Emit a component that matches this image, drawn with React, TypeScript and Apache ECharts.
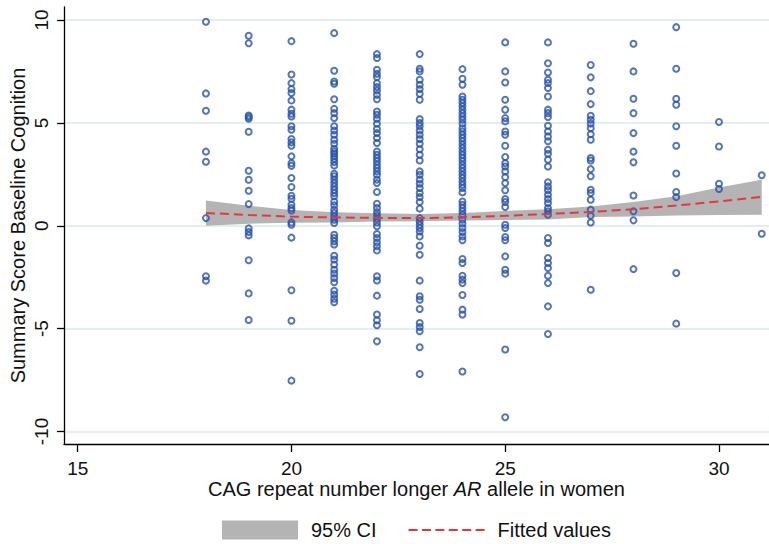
import React, { useEffect, useRef } from 'react';
import * as echarts from 'echarts';

const FONT = '"Liberation Sans", Arial, Helvetica, sans-serif';

const cagRepeats = [18, 19, 20, 21, 22, 23, 24, 25, 26, 27, 28, 29, 30, 31];

const score18 = [9.91, 6.43, 5.59, 3.6, 3.11, 0.37, -2.46, -2.67];
const score19 = [9.23, 8.87, 5.36, 5.28, 5.2, 4.57, 2.67, 2.23, 1.7, 1.05, -0.13, -0.31, -0.47, -1.68, -3.29, -4.58];
const score20 = [8.97, 7.35, 6.93, 6.64, 6.45, 6.09, 5.64, 5.44, 5.31, 4.83, 4.66, 4.21, 4.05, 3.89, 3.37, 3.04, 2.91, 2.32, 1.88, 1.46, 1.31, 1.02, 0.86, 0.74, 0.16, 0.05, -0.58, -3.14, -4.62, -7.53];
const score21 = [9.36, 7.53, 7.01, 6.9, 6.15, 5.68, 5.47, 5.23, 4.83, 4.63, 4.42, 4.18, 3.98, 3.74, 3.61, 3.5, 3.37, 3.24, 3.09, 2.93, 2.53, 2.4, 2.24, 2.07, 1.91, 1.75, 1.59, 1.43, 1.18, 0.99, 0.78, 0.62, 0.45, 0.29, 0.13, -0.44, -0.6, -0.76, -0.92, -1.46, -1.65, -1.89, -2.14, -2.33, -2.54, -2.75, -3.16, -3.35, -3.55, -3.72];
const score22 = [8.34, 8.15, 7.58, 7.38, 7.22, 6.93, 6.74, 6.57, 6.36, 6.15, 5.55, 5.39, 5.2, 4.96, 4.7, 4.5, 4.26, 4.02, 3.61, 3.45, 3.29, 3.13, 2.96, 2.8, 2.64, 2.48, 2.24, 2.07, 1.64, 1.07, 0.86, 0.66, 0.49, 0.32, 0.16, -0.03, -0.4, -0.6, -0.81, -1.0, -1.2, -2.46, -2.66, -3.4, -4.32, -4.6, -4.84, -5.62];
const score23 = [8.34, 7.63, 7.5, 7.09, 6.85, 6.64, 6.41, 6.12, 5.18, 4.99, 4.83, 4.63, 4.42, 4.21, 3.98, 3.72, 3.45, 3.17, 2.64, 2.48, 2.24, 2.04, 1.83, 1.59, 1.39, 1.15, 0.83, 0.37, 0.21, 0.05, -0.11, -0.28, -0.52, -0.97, -1.41, -2.67, -3.43, -3.6, -4.05, -4.73, -4.92, -5.13, -5.91, -7.21];
const score24 = [7.61, 7.14, 6.85, 6.28, 6.12, 5.96, 5.8, 5.64, 5.47, 5.31, 5.15, 4.96, 4.74, 4.58, 4.42, 4.26, 4.1, 3.94, 3.77, 3.61, 3.45, 3.29, 3.13, 2.96, 2.8, 2.64, 2.48, 2.32, 2.15, 1.99, 1.83, 1.62, 1.18, 1.02, 0.86, 0.7, 0.53, 0.29, 0.1, -0.11, -0.31, -0.52, -0.71, -1.62, -1.81, -2.43, -2.62, -2.79, -3.37, -4.08, -4.32, -7.09];
const score25 = [8.91, 7.5, 6.96, 6.12, 5.64, 5.23, 5.07, 4.58, 4.42, 3.89, 3.34, 3.04, 2.88, 2.64, 2.36, 2.07, 1.72, 1.3, 1.15, 0.91, 0.05, -0.11, -0.55, -0.71, -1.49, -2.14, -2.33, -6.02, -9.31];
const score26 = [8.91, 7.9, 7.45, 7.09, 6.93, 6.69, 6.28, 5.64, 5.47, 5.28, 4.86, 4.58, 4.34, 4.1, 3.69, 3.5, 3.21, 2.88, 2.11, 1.91, 1.72, 1.51, 1.3, 1.1, 0.86, 0.7, 0.53, -0.6, -0.84, -1.57, -1.81, -2.06, -2.43, -2.79, -3.92, -5.26];
const score27 = [7.81, 7.21, 6.54, 5.91, 5.34, 5.15, 4.96, 4.74, 4.45, 4.18, 3.29, 3.17, 2.75, 2.4, 1.75, 1.59, 1.26, 0.78, 0.49, 0.16, -3.11];
const score28 = [8.84, 7.5, 6.17, 5.47, 4.5, 3.6, 3.08, 1.47, 0.7, 0.26, -2.11];
const score29 = [9.65, 7.63, 6.17, 5.88, 4.83, 3.89, 2.54, 1.64, 1.39, -2.3, -4.76];
const score30 = [5.04, 3.85, 2.04, 1.78];
const score31 = [2.45, -0.39];

const scoreColumns = [score18, score19, score20, score21, score22, score23, score24, score25, score26, score27, score28, score29, score30, score31];

const fittedValues = [0.62, 0.52, 0.44, 0.4, 0.38, 0.37, 0.41, 0.48, 0.57, 0.67, 0.8, 0.98, 1.18, 1.4];
const ciUpper = [1.23, 0.97, 0.76, 0.65, 0.6, 0.57, 0.62, 0.72, 0.8, 0.93, 1.15, 1.43, 1.86, 2.23];
const ciLower = [0.0, 0.1, 0.14, 0.16, 0.2, 0.22, 0.25, 0.28, 0.3, 0.42, 0.45, 0.49, 0.52, 0.53];

const xTitle = 'CAG repeat number longer {i|AR} allele in women';
const yTitle = 'Summary Score Baseline Cognition';
const ciName = '95% CI';
const fitName = 'Fitted values';

const MARKER = '#2852a8';
const BAND = '#b4b4b4';
const FIT = '#e8363c';
const GRIDLINE = '#dbe9eb';

// dashed legend icon: six dashes across the icon width
const DASH_ICON = 'path://M0,0h9v2h-9z M13.4,0h9v2h-9z M26.8,0h9v2h-9z M40.2,0h9v2h-9z M53.6,0h9v2h-9z M67,0h9v2h-9z';

export default function App() {
  const ref = useRef<HTMLDivElement>(null);
  useEffect(() => {
    const chart = echarts.init(ref.current!, null, { renderer: 'svg' });
    const scatterData: number[][] = [];
    cagRepeats.forEach((x, i) => scoreColumns[i].forEach((y) => scatterData.push([x, y])));
    const bandData = cagRepeats.map((x, i) => [x, ciLower[i], ciUpper[i]]);
    const fitData = cagRepeats.map((x, i) => [x, fittedValues[i]]);
    const textBase = { color: '#111', fontFamily: FONT };

    chart.setOption({
      animation: false,
      backgroundColor: '#fff',
      textStyle: { fontFamily: FONT },
      grid: [
        { left: 64, right: 0, top: 7, bottom: 100 },
        { left: 64, right: 0, top: 20, bottom: 112.5 },
        { left: 77.7, right: 50, top: 7, bottom: 100 },
      ],
      xAxis: [
        {
          gridIndex: 0, type: 'value', min: 14.68, max: 31.17,
          axisLine: { show: true, onZero: false, lineStyle: { color: '#000', width: 1.3 } },
          axisTick: { show: false }, axisLabel: { show: false }, splitLine: { show: false },
          name: xTitle, nameLocation: 'middle', nameGap: 35,
          nameTextStyle: { ...textBase, fontSize: 20, rich: { i: { ...textBase, fontSize: 20, fontStyle: 'italic' } } },
        },
        { gridIndex: 1, type: 'value', min: 14.68, max: 31.17, show: false },
        {
          gridIndex: 2, type: 'value', min: 15, max: 30, interval: 5,
          axisLine: { show: false, onZero: false },
          axisTick: { show: true, length: 8, lineStyle: { color: '#000', width: 1.3 } },
          axisLabel: { ...textBase, fontSize: 19, margin: 15 },
          splitLine: { show: false },
        },
      ],
      yAxis: [
        {
          gridIndex: 0, type: 'value', min: -10.61, max: 10.63,
          axisLine: { show: true, onZero: false, lineStyle: { color: '#000', width: 1.3 } },
          axisTick: { show: false }, axisLabel: { show: false }, splitLine: { show: false },
          name: yTitle, nameLocation: 'middle', nameGap: 36,
          nameTextStyle: { ...textBase, fontSize: 20 },
        },
        {
          gridIndex: 1, type: 'value', min: -10, max: 10, interval: 5,
          axisLine: { show: false, onZero: false },
          axisTick: { show: true, length: 7, lineStyle: { color: '#000', width: 1.3 } },
          axisLabel: { ...textBase, fontSize: 19, rotate: 90, margin: 13 },
          splitLine: { show: true, lineStyle: { color: GRIDLINE, width: 1.5 } },
        },
        { gridIndex: 2, type: 'value', min: -10.61, max: 10.63, show: false },
      ],
      legend: {
        left: 222, top: 520, padding: 0,
        itemWidth: 76, itemHeight: 19, itemGap: 32,
        symbolKeepAspect: true,
        textStyle: { ...textBase, fontSize: 20, lineHeight: 20, padding: [0, 0, 0, 8] },
        data: [
          { name: ciName, icon: 'rect', itemStyle: { color: BAND } },
          { name: fitName, icon: DASH_ICON, itemStyle: { color: FIT } },
        ],
        selectedMode: false,
      },
      series: [
        {
          name: ciName, type: 'custom', xAxisIndex: 0, yAxisIndex: 0,
          data: bandData, encode: { x: 0, y: [1, 2] }, silent: true,
          itemStyle: { color: BAND },
          renderItem: (params: any, api: any) => {
            if (params.dataIndex !== 0) return null;
            const pts: number[][] = [];
            for (let i = 0; i < cagRepeats.length; i++) pts.push(api.coord([cagRepeats[i], ciUpper[i]]));
            for (let i = cagRepeats.length - 1; i >= 0; i--) pts.push(api.coord([cagRepeats[i], ciLower[i]]));
            return { type: 'polygon', shape: { points: pts }, style: { fill: BAND } };
          },
        },
        {
          name: 'scores', type: 'scatter', xAxisIndex: 0, yAxisIndex: 0,
          data: scatterData, symbol: 'circle', symbolSize: 6,
          itemStyle: { color: 'rgba(0,0,0,0)', borderColor: MARKER, borderWidth: 2 },
        },
        {
          name: fitName, type: 'line', xAxisIndex: 0, yAxisIndex: 0,
          data: fitData, symbol: 'none', itemStyle: { color: FIT },
          lineStyle: { color: FIT, width: 2, type: [9, 5] },
        },
      ],
    });
    return () => chart.dispose();
  }, []);
  return <div ref={ref} style={{ position: 'fixed', left: 0, top: 0, width: 769, height: 544, background: '#fff' }} />;
}
